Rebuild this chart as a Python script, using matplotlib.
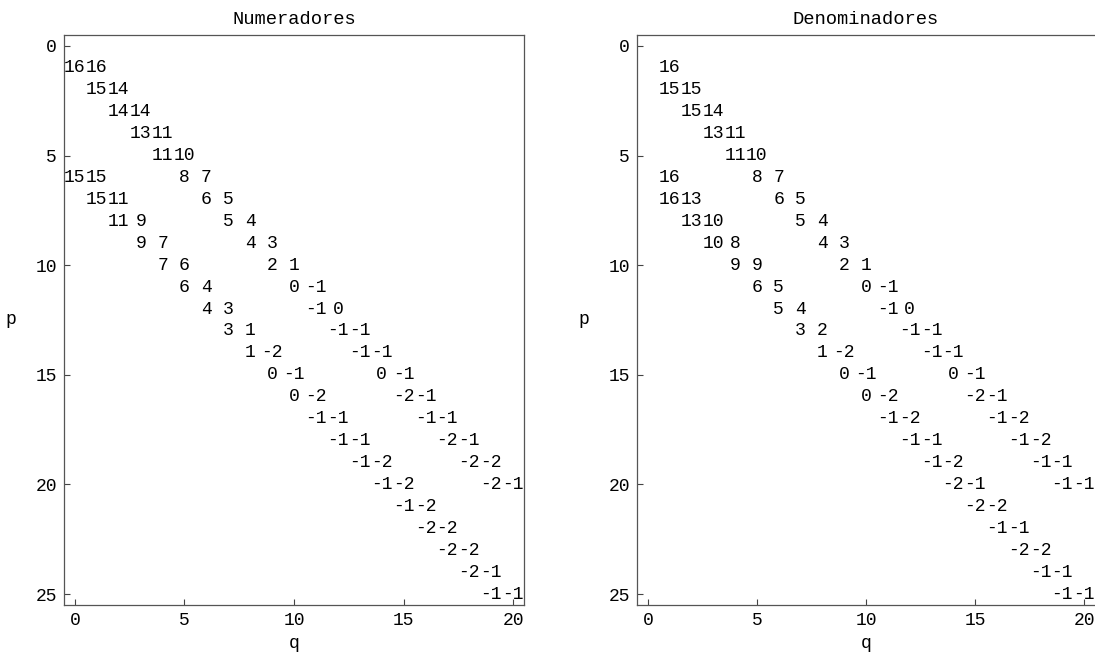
import matplotlib
matplotlib.use("Agg")
import matplotlib.pyplot as plt

# Numeradores: row p, column q, value
num_p = [1, 1, 2, 2, 3, 3, 4, 4, 5, 5,
         6, 6, 6, 6, 7, 7, 7, 7, 8, 8, 8, 8, 9, 9, 9, 9, 10, 10, 10, 10,
         11, 11, 11, 11, 12, 12, 12, 12, 13, 13, 13, 13, 14, 14, 14, 14,
         15, 15, 15, 15, 16, 16, 16, 16, 17, 17, 17, 17, 18, 18, 18, 18,
         19, 19, 19, 19, 20, 20, 20, 20,
         21, 21, 22, 22, 23, 23, 24, 24, 25, 25]
num_q = [0, 1, 1, 2, 2, 3, 3, 4, 4, 5,
         0, 1, 5, 6, 1, 2, 6, 7, 2, 3, 7, 8, 3, 4, 8, 9, 4, 5, 9, 10,
         5, 6, 10, 11, 6, 7, 11, 12, 7, 8, 12, 13, 8, 9, 13, 14,
         9, 10, 14, 15, 10, 11, 15, 16, 11, 12, 16, 17, 12, 13, 17, 18,
         13, 14, 18, 19, 14, 15, 19, 20,
         15, 16, 16, 17, 17, 18, 18, 19, 19, 20]
num_v = [16, 16, 15, 14, 14, 14, 13, 11, 11, 10,
         15, 15, 8, 7, 15, 11, 6, 5, 11, 9, 5, 4, 9, 7, 4, 3, 7, 6, 2, 1,
         6, 4, 0, -1, 4, 3, -1, 0, 3, 1, -1, -1, 1, -2, -1, -1,
         0, -1, 0, -1, 0, -2, -2, -1, -1, -1, -1, -1, -1, -1, -2, -1,
         -1, -2, -2, -2, -1, -2, -2, -1,
         -1, -2, -2, -2, -2, -2, -2, -1, -1, -1]

# Denominadores
den_p = [1, 2, 2, 3, 3, 4, 4, 5, 5,
         6, 6, 6, 7, 7, 7, 7, 8, 8, 8, 8, 9, 9, 9, 9, 10, 10, 10, 10,
         11, 11, 11, 11, 12, 12, 12, 12, 13, 13, 13, 13, 14, 14, 14, 14,
         15, 15, 15, 15, 16, 16, 16, 16, 17, 17, 17, 17, 18, 18, 18, 18,
         19, 19, 19, 19, 20, 20, 20, 20,
         21, 21, 22, 22, 23, 23, 24, 24, 25, 25]
den_q = [1, 1, 2, 2, 3, 3, 4, 4, 5,
         1, 5, 6, 1, 2, 6, 7, 2, 3, 7, 8, 3, 4, 8, 9, 4, 5, 9, 10,
         5, 6, 10, 11, 6, 7, 11, 12, 7, 8, 12, 13, 8, 9, 13, 14,
         9, 10, 14, 15, 10, 11, 15, 16, 11, 12, 16, 17, 12, 13, 17, 18,
         13, 14, 18, 19, 14, 15, 19, 20,
         15, 16, 16, 17, 17, 18, 18, 19, 19, 20]
den_v = [16, 15, 15, 15, 14, 13, 11, 11, 10,
         16, 8, 7, 16, 13, 6, 5, 13, 10, 5, 4, 10, 8, 4, 3, 9, 9, 2, 1,
         6, 5, 0, -1, 5, 4, -1, 0, 3, 2, -1, -1, 1, -2, -1, -1,
         0, -1, 0, -1, 0, -2, -2, -1, -1, -2, -1, -2, -1, -1, -1, -2,
         -1, -2, -1, -1, -2, -1, -1, -1,
         -2, -2, -1, -1, -2, -2, -1, -1, -1, -1]

FONT = "Liberation Mono"
W, H = 1095, 652


def draw_panel(ax, title, ps, qs, vals):
    for p, q, v in zip(ps, qs, vals):
        ax.text(q, p, str(v), ha="center", va="center", family=FONT,
                fontsize=13, clip_on=False)
    ax.set_xlim(-0.5, 20.5)
    ax.set_ylim(25.5, -0.5)
    ax.set_xticks([0, 5, 10, 15, 20])
    ax.set_yticks([0, 5, 10, 15, 20, 25])
    ax.tick_params(direction="in", length=4, width=0.8, color="#444444",
                   labelsize=13, pad=5, top=False, right=False)
    for lab in ax.get_xticklabels() + ax.get_yticklabels():
        lab.set_family(FONT)
    for s in ax.spines.values():
        s.set_color("#555555")
        s.set_linewidth(0.9)
    ax.set_title(title, family=FONT, fontsize=13.5, pad=8)
    ax.set_xlabel("q", family=FONT, fontsize=13, labelpad=4)
    ax.set_ylabel("p", family=FONT, fontsize=13, rotation=0, labelpad=18,
                  va="center")


fig = plt.figure(figsize=(W / 100, H / 100), dpi=100)
bottom = (H - 605) / H
height = 570 / H
ax1 = fig.add_axes([64 / W, bottom, 460 / W, height])
ax2 = fig.add_axes([637 / W, bottom, 458 / W, height])

draw_panel(ax1, "Numeradores", num_p, num_q, num_v)
draw_panel(ax2, "Denominadores", den_p, den_q, den_v)
ax2.spines["right"].set_visible(False)

fig.savefig("out.png", dpi=100)
